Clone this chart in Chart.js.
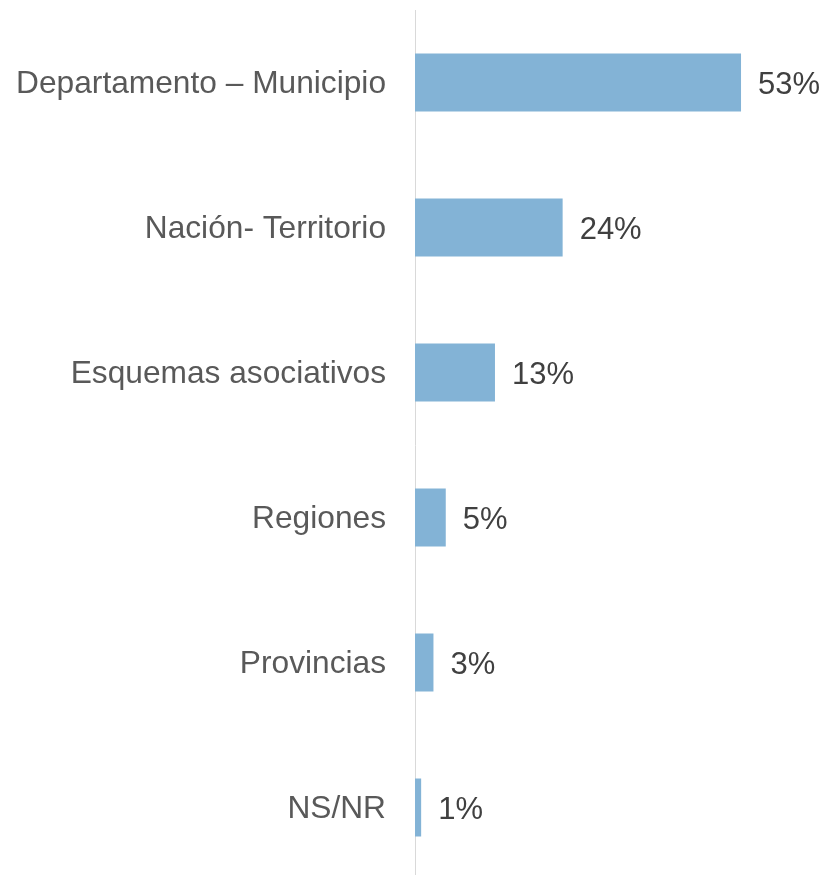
<!DOCTYPE html>
<html>
<head>
<meta charset="utf-8">
<script src="https://cdn.jsdelivr.net/npm/chart.js@4.4.0/dist/chart.umd.min.js"></script>
<style>
  html, body { margin: 0; padding: 0; background: #ffffff; overflow: hidden; }
  #grafico { display: block; }
</style>
</head>
<body>
<canvas id="grafico" width="825" height="880"></canvas>
<script>
const categorias = ['Departamento – Municipio', 'Nación- Territorio', 'Esquemas asociativos', 'Regiones', 'Provincias', 'NS/NR'];
const porcentajes = [53, 24, 13, 5, 3, 1];

// etiquetas de valor al final de cada barra
const etiquetasValor = {
    id: 'etiquetasValor',
    afterDatasetsDraw(chart) {
        const ctx = chart.ctx;
        const meta = chart.getDatasetMeta(0);
        ctx.save();
        ctx.font = '31px "Liberation Sans", Arial, sans-serif';
        ctx.fillStyle = '#404040';
        ctx.textAlign = 'left';
        ctx.textBaseline = 'middle';
        meta.data.forEach((barra, i) => {
            ctx.fillText(porcentajes[i] + '%', barra.x + 17, barra.y + 2.5);
        });
        ctx.restore();
    }
};

const ctx = document.getElementById('grafico').getContext('2d');
new Chart(ctx, {
    type: 'bar',
    data: {
        labels: categorias,
        datasets: [{
            data: porcentajes,
            backgroundColor: '#83b3d6',
            borderWidth: 0,
            barPercentage: 0.4,
            categoryPercentage: 1.0,
        }],
    },
    options: {
        indexAxis: 'y',
        responsive: false,
        animation: false,
        layout: { padding: { top: 10, right: 4, left: 0, bottom: 0 } },
        plugins: {
            legend: { display: false },
            tooltip: { enabled: false },
        },
        scales: {
            x: {
                display: false,
                min: 0,
                max: 66,
            },
            y: {
                afterFit(scale) {
                    scale.width = 415;
                    scale.paddingTop = 0;
                    scale.paddingBottom = 0;
                },
                grid: { display: false, drawTicks: false },
                border: { display: true, color: '#d9d9d9', width: 1 },
                ticks: {
                    padding: 29,
                    labelOffset: 2,
                    color: '#595959',
                    font: { family: '"Liberation Sans", Arial, sans-serif', size: 31.7 },
                },
            },
        },
    },
    plugins: [etiquetasValor],
});
</script>
</body>
</html>
